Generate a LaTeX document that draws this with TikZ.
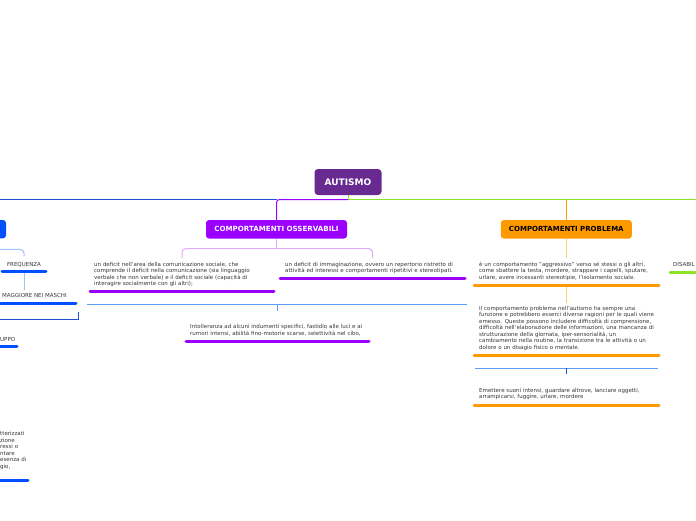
\documentclass[tikz,border=0pt]{standalone}
\usepackage{fontspec}
\setmainfont{DejaVu Sans}
\definecolor{autp}{RGB}{104,42,145}
\definecolor{brp}{RGB}{155,0,255}
\definecolor{lpur}{RGB}{222,172,250}
\definecolor{ora}{RGB}{255,153,0}
\definecolor{lora}{RGB}{255,204,120}
\definecolor{blu}{RGB}{0,80,255}
\definecolor{topblu}{RGB}{30,80,210}
\definecolor{lblu}{RGB}{90,160,240}
\definecolor{llblu}{RGB}{160,192,255}
\definecolor{grn}{RGB}{140,228,40}
\definecolor{txt}{RGB}{55,55,55}
\tikzset{
  rootbox/.style={fill=autp,rounded corners=3.5pt,text=white,font=\bfseries\fontsize{9}{10}\selectfont,minimum width=67pt,minimum height=26pt,inner sep=0pt},
  ossbox/.style={fill=brp,rounded corners=3pt,text=white,font=\bfseries\fontsize{7.1}{8}\selectfont,minimum width=141pt,minimum height=18.5pt,inner sep=0pt},
  probbox/.style={fill=ora,rounded corners=3pt,text=black,font=\bfseries\fontsize{7}{8}\selectfont,minimum width=131pt,minimum height=18.5pt,inner sep=0pt},
  leaf/.style={anchor=base west,inner sep=0pt,text width=200pt,align=left,text=txt,font=\fontsize{5.5}{6.5}\selectfont},
  lab/.style={inner sep=0pt,text=txt,font=\fontsize{5.5}{6.5}\selectfont},
  ul/.style={line width=3pt,line cap=round},
  conn/.style={line width=1pt},
}
\begin{document}
\begin{tikzpicture}[x=1pt,y=-1pt]
\useasboundingbox (0,0) rectangle (696,520);
\fill[white] (0,0) rectangle (696,520);

% main nodes
\node[rootbox] (aut) at (348,182) {AUTISMO};
\node[ossbox] (oss) at (276.5,229.3) {COMPORTAMENTI OSSERVABILI};
\node[probbox] (prob) at (566.3,229.3) {COMPORTAMENTI PROBLEMA};
\fill[blu,rounded corners=3pt] (-10,220) rectangle (6,238.3);

% top connectors
\coordinate (hub) at (348,199.5);
\coordinate (leftend) at (0,199.5);
\coordinate (rightend) at (696,199.5);
\coordinate (ossturn) at (276.5,199.5);
\draw[conn,topblu] (ossturn) -- (leftend);
\draw[conn,grn] (aut.south) -- (hub) -- (rightend);
\draw[conn,brp,rounded corners=3pt] (hub) -| (oss.north);
\draw[conn,ora] (prob.north |- hub) -- (prob.north);

% leaves of OSSERVABILI
\node[leaf] (c1) at (94,266.3) {un deficit nell'area della comunicazione sociale, che\\comprende il deficit nella comunicazione (sia linguaggio\\verbale che non verbale) e il deficit sociale (capacità di\\interagire socialmente con gli altri);};
\node[leaf] (c2) at (285,266.3) {un deficit di immaginazione, ovvero un repertorio ristretto di\\attività ed interessi e comportamenti ripetitivi e stereotipati.};
\node[leaf] (c3) at (190,328.6) {Intolleranza ad alcuni indumenti specifici, fastidio alle luci e ai\\rumori intensi, abilità fino-motorie scarse, selettività nel cibo,};
\draw[ul,brp] (90,291.3) -- (274,291.3);
\draw[ul,brp] (280,278.3) -- (465,278.3);
\draw[ul,brp] (186,341.3) -- (369,341.3);

\coordinate (ossj) at (276.5,248.5);
\coordinate (c1in) at (182,258);
\coordinate (c2in) at (372.5,258);
\draw[conn,lpur] (oss.south) -- (ossj);
\draw[conn,lpur,rounded corners=4pt] (c1in) |- (ossj) -| (c2in);
\coordinate (bl1) at (87,304.3);
\coordinate (bl2) at (467,304.3);
\coordinate (c3in) at (277.5,310.7);
\draw[conn,lblu] (bl1) -- (bl2);
\draw[conn,lblu] (c3in) -- (c3in |- bl1);

% leaves of PROBLEMA
\node[leaf] (p1) at (479,266.3) {è un comportamento "aggressivo" verso sé stessi o gli altri,\\come sbattere la testa, mordere, strappare i capelli, sputare,\\urlare, avere incessanti stereotipie, l'isolamento sociale.};
\node[leaf] (p2) at (479,310.3) {Il comportamento problema nell'autismo ha sempre una\\funzione e potrebbero esserci diverse ragioni per le quali viene\\emesso. Queste possono includere difficoltà di comprensione,\\difficoltà nell'elaborazione delle informazioni, una mancanza di\\strutturazione della giornata, iper-sensorialità, un\\cambiamento nella routine, la transizione tra le attività o un\\dolore o un disagio fisico o mentale.};
\node[leaf] (p3) at (479,392) {Emettere suoni intensi, guardare altrove, lanciare oggetti,\\arrampicarsi, fuggire, urlare, mordere};
\draw[ul,ora] (474,285) -- (659,285);
\draw[ul,ora] (474,355) -- (659,355);
\draw[ul,ora] (474,405.3) -- (659,405.3);
\coordinate (p1in) at (566.3,258);
\coordinate (p1out) at (566.3,286.7);
\coordinate (p2in) at (566.3,303);
\coordinate (pb1) at (475,368);
\coordinate (pb2) at (658,368);
\coordinate (p3in) at (566.3,374.3);
\draw[conn,lora] (prob.south) -- (p1in);
\draw[conn,lora] (p1out) -- (p2in);
\draw[conn,lblu] (pb1) -- (pb2);
\draw[conn,topblu] (p3in) -- (p3in |- pb1);

% left branch (cut off)
\node[lab,anchor=base] (freq) at (24,266.5) {FREQUENZA};
\node[lab,anchor=base west] (mag) at (2,297.5) {MAGGIORE NEI MASCHI};
\node[lab,anchor=base west] (upp) at (0,341.5) {UPPO};
\node[leaf] (frag) at (0,435.6) {tterizzati\\zione\\ressi o\\ntare\\esenza di\\gio,};
\draw[ul,blu] (2,271.5) -- (46,271.5);
\draw[ul,blu] (-2,303) -- (76,303);
\draw[ul,blu] (-2,346.7) -- (17,346.7);
\draw[ul,blu] (-2,480.3) -- (28,480.3);
\coordinate (lb0) at (0,249.3);
\coordinate (freqin) at (24,256);
\draw[conn,llblu,rounded corners=4pt] (lb0) -| (freqin);
\coordinate (freqout) at (24,273);
\coordinate (magin) at (24,290);
\draw[conn,llblu] (freqout) -- (magin);
\coordinate (db0) at (0,319.7);
\coordinate (db1) at (78,319.7);
\coordinate (db2) at (78,312);
\draw[conn,topblu] (db0) -- (db1) -- (db2);

% right branch (cut off)
\node[lab,anchor=base west] (dis) at (673,266.5) {DISABIL};
\draw[ul,grn] (670,272) -- (698,272);
\end{tikzpicture}
\end{document}
